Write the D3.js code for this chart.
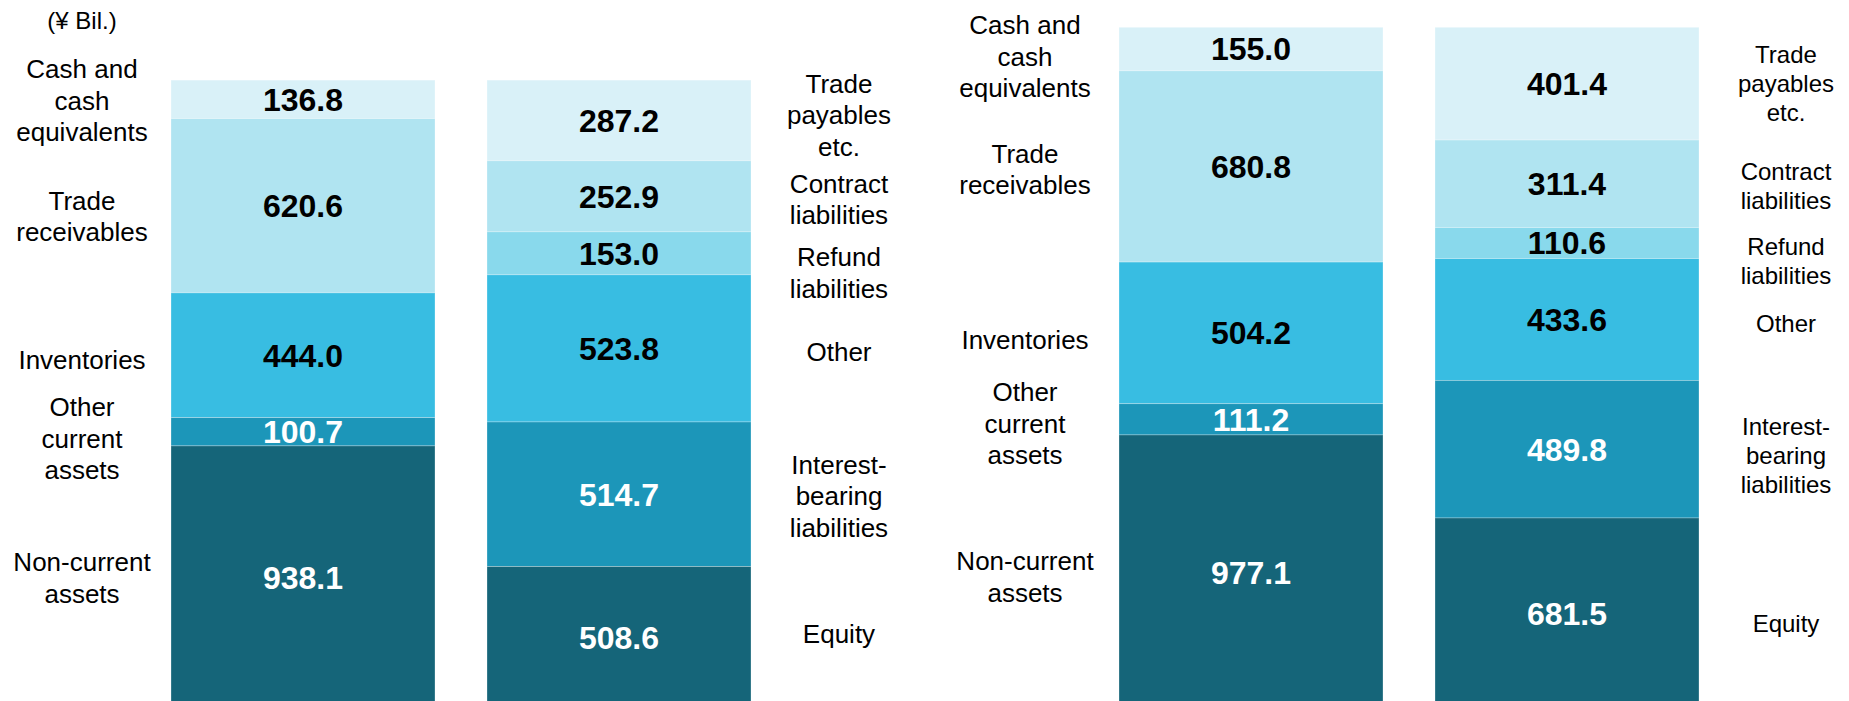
<!DOCTYPE html>
<html><head><meta charset="utf-8">
<script src="https://cdn.jsdelivr.net/npm/d3@7"></script>
<style>html,body{margin:0;padding:0;background:#fff;overflow:hidden}</style>
</head><body><svg id="chart" width="1849" height="701"></svg>
<script>
// ---------------- data ----------------
const unitLabel = "(¥ Bil.)";
const assetCategories = ["Cash and cash equivalents", "Trade receivables", "Inventories", "Other current assets", "Non-current assets"];
const assetLabelLines = [["Cash and", "cash", "equivalents"], ["Trade", "receivables"], ["Inventories"], ["Other", "current", "assets"], ["Non-current", "assets"]];
const liabilityCategories = ["Trade payables etc.", "Contract liabilities", "Refund liabilities", "Other", "Interest-bearing liabilities", "Equity"];
const liabilityLabelLines = [["Trade", "payables", "etc."], ["Contract", "liabilities"], ["Refund", "liabilities"], ["Other"], ["Interest-", "bearing", "liabilities"], ["Equity"]];
const assetsPrev = [136.8, 620.6, 444.0, 100.7, 938.1];
const liabilitiesPrev = [287.2, 252.9, 153.0, 523.8, 514.7, 508.6];
const assetsCurr = [155.0, 680.8, 504.2, 111.2, 977.1];
const liabilitiesCurr = [401.4, 311.4, 110.6, 433.6, 489.8, 681.5];

// ---------------- style / layout ----------------
const palette = ["#d9f1f8", "#b0e4f1", "#89d9ec", "#38bde2", "#1c96b9", "#156579"];
const assetColorIdx = [0, 1, 3, 4, 5];
const liabColorIdx = [0, 1, 2, 3, 4, 5];
const FONT = "'Liberation Sans', Arial, Helvetica, sans-serif";

const svg = d3.select("#chart");
const yBase = 709.4, pxPerUnit = 0.2809;
const y = d3.scaleLinear().domain([0, 2500]).range([yBase, yBase - 2500 * pxPerUnit]);

const panels = [
  { range: [171, 751], assets: assetsPrev, liab: liabilitiesPrev,
    assetNudge: [1.5, 10.6, 4.7, 6.8, 0.4], liabNudge: [-5.3, 3.3, 19.6, 4, 1.7, -4.4],
    assetDx: -89, liabDx: 88, assetFont: 26, assetLH: 31.5, liabFont: 26, liabLH: 31.5 },
  { range: [1119, 1699], assets: assetsCurr, liab: liabilitiesCurr,
    assetNudge: [7.8, 3.2, 7, 4.5, 4.5], liabNudge: [-0.4, 2.3, 18, 3.8, 6.9, 9.5],
    assetDx: -94, liabDx: 87, assetFont: 26, assetLH: 31.5, liabFont: 24, liabLH: 29 }
];

function stackTopFirst(values) {
  const n = values.length;
  const out = new Array(n);
  let acc = 0;
  for (let i = n - 1; i >= 0; i--) {
    out[i] = { v: values[i], y0: acc, y1: acc + values[i] };
    acc += values[i];
  }
  return out;
}

function drawBar(g, x, key, values, colorIdx, lines, nudge, labelX, fSize, lh) {
  const segs = stackTopFirst(values);
  const bx = x(key), bw = x.bandwidth();
  const grp = g.append("g");
  grp.selectAll("rect").data(segs).join("rect")
    .attr("x", bx).attr("width", bw)
    .attr("y", d => y(d.y1)).attr("height", d => y(d.y0) - y(d.y1))
    .attr("fill", (d, i) => palette[colorIdx[i]])
    .attr("stroke", "#ffffff").attr("stroke-opacity", 0.35).attr("stroke-width", 0.8);
  const vf = 32;
  grp.selectAll("text.val").data(segs).join("text").attr("class", "val")
    .attr("x", bx + bw / 2)
    .attr("y", d => (y(d.y0) + y(d.y1)) / 2 + 0.355 * vf)
    .attr("text-anchor", "middle")
    .attr("font-family", FONT).attr("font-weight", "bold").attr("font-size", vf)
    .attr("fill", (d, i) => colorIdx[i] >= 4 ? "#ffffff" : "#000000")
    .text(d => d.v.toFixed(1));
  segs.forEach((d, i) => {
    const cy = (y(d.y0) + y(d.y1)) / 2 + nudge[i];
    const ls = lines[i];
    const first = cy - (ls.length - 1) * lh / 2 + 0.35 * fSize;
    const t = g.append("text")
      .attr("text-anchor", "middle")
      .attr("font-family", FONT).attr("font-size", fSize).attr("fill", "#000")
      .attr("y", first);
    ls.forEach((s, k) => {
      t.append("tspan").attr("x", labelX).attr("dy", k === 0 ? 0 : lh).text(s);
    });
  });
}

panels.forEach(p => {
  const x = d3.scaleBand().domain(["assets", "liabilities"]).range(p.range)
    .paddingInner(52 / 316).paddingOuter(0);
  const g = svg.append("g");
  drawBar(g, x, "assets", p.assets, assetColorIdx, assetLabelLines, p.assetNudge,
    x("assets") + p.assetDx, p.assetFont, p.assetLH);
  drawBar(g, x, "liabilities", p.liab, liabColorIdx, liabilityLabelLines, p.liabNudge,
    x("liabilities") + x.bandwidth() + p.liabDx, p.liabFont, p.liabLH);
});

svg.append("text").attr("x", 82).attr("y", 29).attr("text-anchor", "middle")
  .attr("font-family", FONT).attr("font-size", 24).attr("fill", "#000").text(unitLabel);
</script>
</body></html>
